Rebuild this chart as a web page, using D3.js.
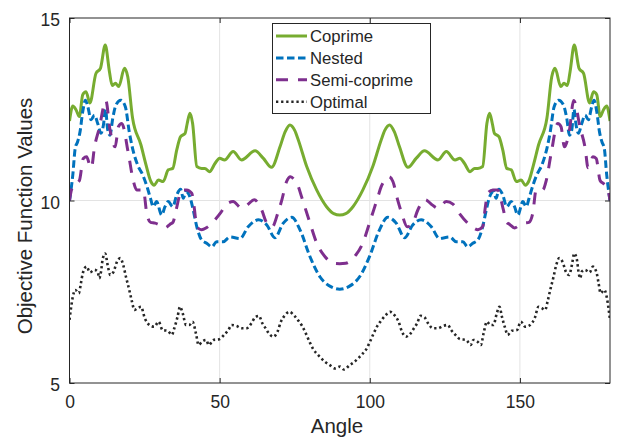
<!DOCTYPE html>
<html lang="en">
<head>
    <meta charset="UTF-8">
    <title>Objective Function Values vs Angle</title>
    <style>
        body {
            margin: 0;
            background: #fff;
            font-family: "Liberation Sans", Arial, sans-serif;
        }
        svg text {
            fill: #262626;
        }
    </style>
</head>
<body>
<svg width="618" height="438"></svg>

<script src="https://d3js.org/d3.v7.min.js"></script>
<script>
    // [angle, value] pairs
    const coprime = [
        [0, 12.18], [1.1, 12.59], [2.2, 12.48], [3.3, 12.3], [4.4, 12.9], [5.5, 12.98], [6.8, 12.67],
        [8.8, 13.48], [10.3, 13.62], [11.9, 14.26], [13.3, 13.53], [14.2, 13.15], [15.3, 13.21],
        [16.4, 13.12], [18.3, 13.62], [19.4, 13.39], [21.0, 12.26], [23.8, 11.52], [25.5, 10.97],
        [27.1, 10.52], [28.2, 10.42], [29.6, 10.56], [31.2, 10.52], [32.9, 10.84], [34.4, 10.88],
        [35.7, 11.38], [37.0, 11.75], [38.5, 11.84], [39.2, 12.11], [40.1, 12.39], [41.0, 12.11],
        [42.4, 10.93], [44.0, 10.88], [45.1, 10.88], [46.6, 10.79], [48.5, 11.02], [50.0, 11.16],
        [51.6, 11.11], [54.5, 11.34], [57.3, 11.11], [61.8, 11.36], [64.5, 11.16], [67.3, 10.91],
        [70.1, 11.47], [71.8, 11.88], [73.4, 12.07], [75.0, 11.92], [76.2, 11.66], [79.0, 10.93],
        [82.3, 10.29], [85.6, 9.83], [88.0, 9.64], [90, 9.60],
        [92.0, 9.64], [94.4, 9.83], [97.7, 10.29], [101.0, 10.93], [103.8, 11.66], [105.0, 11.92],
        [106.6, 12.07], [108.2, 11.88], [109.9, 11.47], [112.7, 10.91], [115.5, 11.16], [118.2, 11.36],
        [122.7, 11.11], [125.5, 11.34], [128.4, 11.11], [130.0, 11.16], [131.5, 11.02], [133.4, 10.79],
        [134.9, 10.88], [136.0, 10.88], [137.6, 10.93], [139.0, 12.11], [139.9, 12.39], [140.8, 12.11],
        [141.5, 11.84], [143.0, 11.75], [144.3, 11.38], [145.6, 10.88], [147.1, 10.84], [148.8, 10.52],
        [150.4, 10.56], [151.8, 10.42], [152.9, 10.52], [154.5, 10.97], [156.2, 11.52], [159.0, 12.26],
        [160.6, 13.39], [161.7, 13.62], [163.6, 13.12], [164.7, 13.21], [165.8, 13.15], [166.7, 13.53],
        [168.1, 14.26], [169.7, 13.62], [171.2, 13.48], [173.2, 12.67], [174.5, 12.98], [175.6, 12.9],
        [176.7, 12.3], [177.8, 12.48], [178.9, 12.59], [180, 12.18]
    ];

    const nested = [
        [0, 10.0], [1.1, 10.7], [1.9, 11.43], [2.7, 11.61], [3.5, 11.88], [4.4, 12.43], [5.3, 12.75],
        [6.1, 12.57], [7.2, 12.21], [8.3, 12.34], [9.4, 12.11], [10.5, 11.84], [11.3, 12.07], [12.0, 12.5],
        [12.7, 11.95], [13.5, 11.79], [14.4, 12.25], [15.5, 12.62], [17.1, 12.75], [18.6, 12.57],
        [19.9, 11.88], [21.0, 11.43], [22.7, 10.97], [24.4, 10.70], [26.0, 10.33], [27.0, 10.05],
        [27.9, 9.83], [29.0, 9.97], [30.7, 9.60], [31.8, 9.83], [32.9, 9.97], [34.4, 9.83], [35.7, 10.15],
        [37.0, 10.31], [37.9, 10.06], [38.8, 10.24], [40.1, 10.10], [41.2, 9.74], [42.4, 9.28],
        [44.0, 8.92], [45.7, 8.83], [47.4, 8.73], [49.0, 8.87], [51.2, 8.87], [53.4, 9.0], [56.8, 8.96],
        [59.5, 9.28], [62.9, 9.47], [65.7, 9.33], [68.4, 8.98], [71.2, 9.38], [74.0, 9.54], [76.8, 9.19],
        [80.1, 8.46], [83.4, 7.91], [87.0, 7.64], [90, 7.57],
        [93.0, 7.64], [96.6, 7.91], [99.9, 8.46], [103.2, 9.19], [106.0, 9.54], [108.8, 9.38],
        [111.6, 8.98], [114.3, 9.33], [117.1, 9.47], [120.5, 9.28], [123.2, 8.96], [126.6, 9.0],
        [128.8, 8.87], [131.0, 8.87], [132.6, 8.73], [134.3, 8.83], [136.0, 8.92], [137.6, 9.28],
        [138.8, 9.74], [139.9, 10.10], [141.2, 10.24], [142.1, 10.06], [143.0, 10.31], [144.3, 10.15],
        [145.6, 9.83], [147.1, 9.97], [148.2, 9.83], [149.3, 9.60], [151.0, 9.97], [152.1, 9.83],
        [153.0, 10.05], [154.0, 10.33], [155.6, 10.70], [157.3, 10.97], [159.0, 11.43], [160.1, 11.88],
        [161.4, 12.57], [162.9, 12.75], [164.5, 12.62], [165.6, 12.25], [166.5, 11.79], [167.3, 11.95],
        [168.0, 12.5], [168.7, 12.07], [169.5, 11.84], [170.6, 12.11], [171.7, 12.34], [172.8, 12.21],
        [173.9, 12.57], [174.7, 12.75], [175.6, 12.43], [176.5, 11.88], [177.3, 11.61], [178.1, 11.43],
        [178.9, 10.7], [180, 10.0]
    ];

    const semiCoprime = [
        [0, 10.0], [0.7, 10.3], [2.0, 10.45], [3.3, 10.55], [4.6, 11.15], [5.7, 11.2], [6.8, 10.95],
        [7.3, 10.9], [8.3, 11.45], [9.9, 11.98], [12.1, 12.74], [13.5, 11.93], [15.2, 11.47],
        [16.3, 12.02], [17.4, 12.11], [19.6, 11.29], [21.2, 10.56], [22.4, 10.29], [24.6, 10.29],
        [25.7, 9.66], [27.0, 9.4], [28.5, 9.38], [30.0, 9.33], [31.8, 9.25], [33.5, 9.35], [34.5, 9.41],
        [35.5, 9.74], [37.4, 10.29], [39.0, 10.29], [40.7, 10.2], [41.5, 9.83], [42.4, 9.28], [44.0, 9.2],
        [45.5, 9.25], [47.4, 9.38], [50.3, 9.66], [52.3, 9.9], [54.5, 9.97], [57.3, 9.79], [59.5, 9.9],
        [61.5, 10.02], [64.0, 9.74], [65.7, 9.38], [67.5, 9.28], [69.4, 9.66], [70.7, 10.01],
        [72.3, 10.52], [73.6, 10.65], [75.0, 10.55], [76.2, 10.38], [77.3, 10.1], [80.1, 9.38],
        [82.3, 8.84], [85.1, 8.46], [88.0, 8.28], [90, 8.27],
        [92.0, 8.28], [94.9, 8.46], [97.7, 8.84], [99.9, 9.38], [102.7, 10.1], [103.8, 10.38],
        [105.0, 10.55], [106.4, 10.65], [107.7, 10.52], [109.3, 10.01], [110.6, 9.66], [112.5, 9.28],
        [114.3, 9.38], [116.0, 9.74], [118.5, 10.02], [120.5, 9.9], [122.7, 9.79], [125.5, 9.97],
        [127.7, 9.9], [129.7, 9.66], [132.6, 9.38], [134.5, 9.25], [136.0, 9.2], [137.6, 9.28],
        [138.5, 9.83], [139.3, 10.2], [141.0, 10.29], [142.6, 10.29], [144.5, 9.74], [145.5, 9.41],
        [146.5, 9.35], [148.2, 9.25], [150.0, 9.33], [151.5, 9.38], [153.0, 9.4], [154.3, 9.66],
        [155.4, 10.29], [157.6, 10.29], [158.8, 10.56], [160.4, 11.29], [162.6, 12.11], [163.7, 12.02],
        [164.8, 11.47], [166.5, 11.93], [167.9, 12.74], [170.1, 11.98], [171.7, 11.45], [172.7, 10.9],
        [173.2, 10.95], [174.3, 11.2], [175.4, 11.15], [176.7, 10.55], [178.0, 10.45], [179.3, 10.3],
        [180, 10.0]
    ];

    const optimal = [
        [0, 6.73], [0.5, 7.05], [1.1, 7.36], [1.9, 7.55], [3.1, 7.46], [3.8, 7.73], [4.4, 8.0], [5.7, 8.19],
        [6.8, 8.03], [8.3, 8.10], [9.4, 8.05], [9.9, 7.87], [10.5, 8.05], [11.0, 8.37], [11.9, 8.55],
        [12.7, 8.23], [13.6, 7.96], [14.7, 8.05], [15.8, 8.32], [16.9, 8.42], [17.9, 8.23], [18.8, 7.91],
        [19.9, 7.55], [20.8, 7.23], [21.6, 7.0], [22.7, 7.05], [23.8, 7.09], [25.1, 6.77], [26.6, 6.59],
        [28.2, 6.54], [29.7, 6.68], [31.0, 6.45], [32.7, 6.43], [34.1, 6.32], [34.9, 6.50], [36.0, 6.82],
        [36.8, 7.09], [37.7, 6.91], [38.8, 6.59], [39.9, 6.59], [41.0, 6.68], [42.1, 6.36], [43.0, 6.04],
        [44.1, 6.13], [45.5, 6.18], [46.4, 6.04], [47.9, 6.18], [49.9, 6.20], [51.5, 6.32], [52.9, 6.45],
        [54.0, 6.59], [55.7, 6.56], [57.3, 6.50], [59.0, 6.50], [60.7, 6.65], [61.8, 6.80], [63.1, 6.84],
        [64.2, 6.64], [65.3, 6.50], [66.4, 6.36], [67.9, 6.27], [69.3, 6.41], [70.4, 6.68], [71.8, 6.86],
        [73.2, 6.95], [74.9, 6.84], [76.2, 6.71], [77.5, 6.56], [78.7, 6.36], [80.1, 6.10], [81.2, 5.92],
        [82.3, 5.81], [83.7, 5.69], [85.1, 5.58], [86.7, 5.49], [88.4, 5.40], [90.1, 5.45], [91.4, 5.37],
        [93.3, 5.49], [94.9, 5.58], [96.3, 5.69], [97.7, 5.81], [98.8, 5.92], [99.9, 6.10], [101.3, 6.36],
        [102.5, 6.56], [103.8, 6.71], [105.1, 6.84], [106.8, 6.95], [108.2, 6.86], [109.6, 6.68],
        [110.7, 6.41], [112.1, 6.27], [113.6, 6.36], [114.7, 6.50], [115.8, 6.64], [116.9, 6.84],
        [118.2, 6.80], [119.3, 6.65], [121.0, 6.50], [122.7, 6.50], [124.3, 6.56], [126.0, 6.59],
        [127.1, 6.45], [128.5, 6.32], [130.1, 6.20], [132.1, 6.18], [133.6, 6.04], [134.5, 6.18],
        [135.9, 6.13], [137.0, 6.04], [137.9, 6.36], [139.0, 6.68], [140.1, 6.59], [141.2, 6.59],
        [142.3, 6.91], [143.2, 7.09], [144.0, 6.82], [145.1, 6.50], [145.9, 6.32], [147.3, 6.43],
        [149.0, 6.45], [150.3, 6.68], [151.8, 6.54], [153.4, 6.59], [154.9, 6.77], [156.2, 7.09],
        [157.3, 7.05], [158.4, 7.0], [159.2, 7.23], [160.1, 7.55], [161.2, 7.91], [162.1, 8.23],
        [163.1, 8.42], [164.2, 8.32], [165.3, 8.05], [166.4, 7.96], [167.3, 8.23], [168.1, 8.55],
        [169.0, 8.37], [169.5, 8.05], [170.1, 7.87], [170.6, 8.05], [171.7, 8.10], [173.2, 8.03],
        [174.3, 8.19], [175.6, 8.0], [176.2, 7.73], [176.9, 7.46], [178.1, 7.55], [178.9, 7.36],
        [179.5, 7.05], [180, 6.73]
    ];

    const xTicks = [0, 50, 100, 150];
    const yTicks = [5, 10, 15];

    const series = [
        {name: "Coprime", data: coprime, color: "#77ac30", width: 3, dash: null},
        {name: "Nested", data: nested, color: "#0072bd", width: 3, dash: "7.5 3.5"},
        {name: "Semi-coprime", data: semiCoprime, color: "#7e2f8e", width: 3, dash: "12 10"},
        {name: "Optimal", data: optimal, color: "#262626", width: 2.6, dash: "2.3 2.8"}
    ];

    const svg = d3.select("svg");
    const plotLeft = 69.5, plotRight = 610, plotTop = 18, plotBottom = 383;

    const x = d3.scaleLinear().domain([0, 180]).range([plotLeft, plotRight]);
    const y = d3.scaleLinear().domain([5, 15]).range([plotBottom, plotTop]);

    // grid
    svg.append("g")
        .selectAll("line")
        .data(xTicks.filter(d => d > 0))
        .join("line")
        .attr("x1", d => x(d)).attr("x2", d => x(d))
        .attr("y1", plotTop).attr("y2", plotBottom)
        .attr("stroke", "#e3e3e3").attr("stroke-width", 1);

    svg.append("g")
        .selectAll("line")
        .data(yTicks.filter(d => d > 5 && d < 15))
        .join("line")
        .attr("x1", plotLeft).attr("x2", plotRight)
        .attr("y1", d => y(d)).attr("y2", d => y(d))
        .attr("stroke", "#e3e3e3").attr("stroke-width", 1);

    svg.append("clipPath").attr("id", "plotClip")
        .append("rect")
        .attr("x", plotLeft).attr("y", plotTop)
        .attr("width", plotRight - plotLeft).attr("height", plotBottom - plotTop);

    const line = d3.line()
        .x(d => x(d[0]))
        .y(d => y(d[1]))
        .curve(d3.curveMonotoneX);

    const plot = svg.append("g").attr("clip-path", "url(#plotClip)");

    plot.selectAll("path")
        .data(series)
        .join("path")
        .attr("d", d => line(d.data))
        .attr("fill", "none")
        .attr("stroke", d => d.color)
        .attr("stroke-width", d => d.width)
        .attr("stroke-dasharray", d => d.dash)
        .attr("stroke-linejoin", "round");

    // axes
    const xAxis = svg.append("g")
        .attr("transform", `translate(0,${plotBottom})`)
        .call(d3.axisBottom(x).tickValues(xTicks).tickSize(-5).tickPadding(12.5));
    const yAxis = svg.append("g")
        .attr("transform", `translate(${plotLeft},0)`)
        .call(d3.axisLeft(y).tickValues(yTicks).tickSize(-5).tickPadding(9.5));

    svg.append("g")
        .attr("transform", `translate(0,${plotTop})`)
        .call(d3.axisTop(x).tickValues(xTicks).tickSize(-5).tickFormat(""));
    svg.append("g")
        .attr("transform", `translate(${plotRight},0)`)
        .call(d3.axisRight(y).tickValues(yTicks).tickSize(-5).tickFormat(""));

    svg.selectAll(".domain").remove();
    svg.selectAll(".tick line").attr("stroke", "#262626");

    xAxis.selectAll("text").attr("font-size", 17.5).attr("font-family", "Liberation Sans, Arial, sans-serif");
    yAxis.selectAll("text").attr("font-size", 17.5).attr("font-family", "Liberation Sans, Arial, sans-serif")
        .attr("dy", "0.45em");

    svg.append("rect")
        .attr("x", plotLeft).attr("y", plotTop)
        .attr("width", plotRight - plotLeft).attr("height", plotBottom - plotTop)
        .attr("fill", "none")
        .attr("stroke", "#262626")
        .attr("stroke-width", 1);

    // axis labels
    svg.append("text")
        .attr("x", 337).attr("y", 433)
        .attr("text-anchor", "middle")
        .attr("font-size", 20.5)
        .text("Angle");

    svg.append("text")
        .attr("transform", "translate(31.5,216) rotate(-90)")
        .attr("text-anchor", "middle")
        .attr("font-size", 20.5)
        .text("Objective Function Values");

    // legend
    const legend = svg.append("g");
    legend.append("rect")
        .attr("x", 272.5).attr("y", 23.5)
        .attr("width", 158).attr("height", 90)
        .attr("fill", "#fff")
        .attr("stroke", "#262626")
        .attr("stroke-width", 1);

    const rowY = d3.scalePoint().domain(series.map(d => d.name)).range([36, 101.7]);

    const rows = legend.selectAll("g")
        .data(series)
        .join("g")
        .attr("transform", d => `translate(0,${rowY(d.name)})`);

    rows.append("line")
        .attr("x1", 276).attr("x2", 307)
        .attr("stroke", d => d.color)
        .attr("stroke-width", d => d.width)
        .attr("stroke-dasharray", d => d.dash);

    rows.append("text")
        .attr("x", 310)
        .attr("dy", "0.36em")
        .attr("font-size", 16.7)
        .text(d => d.name);
</script>
</body>
</html>
